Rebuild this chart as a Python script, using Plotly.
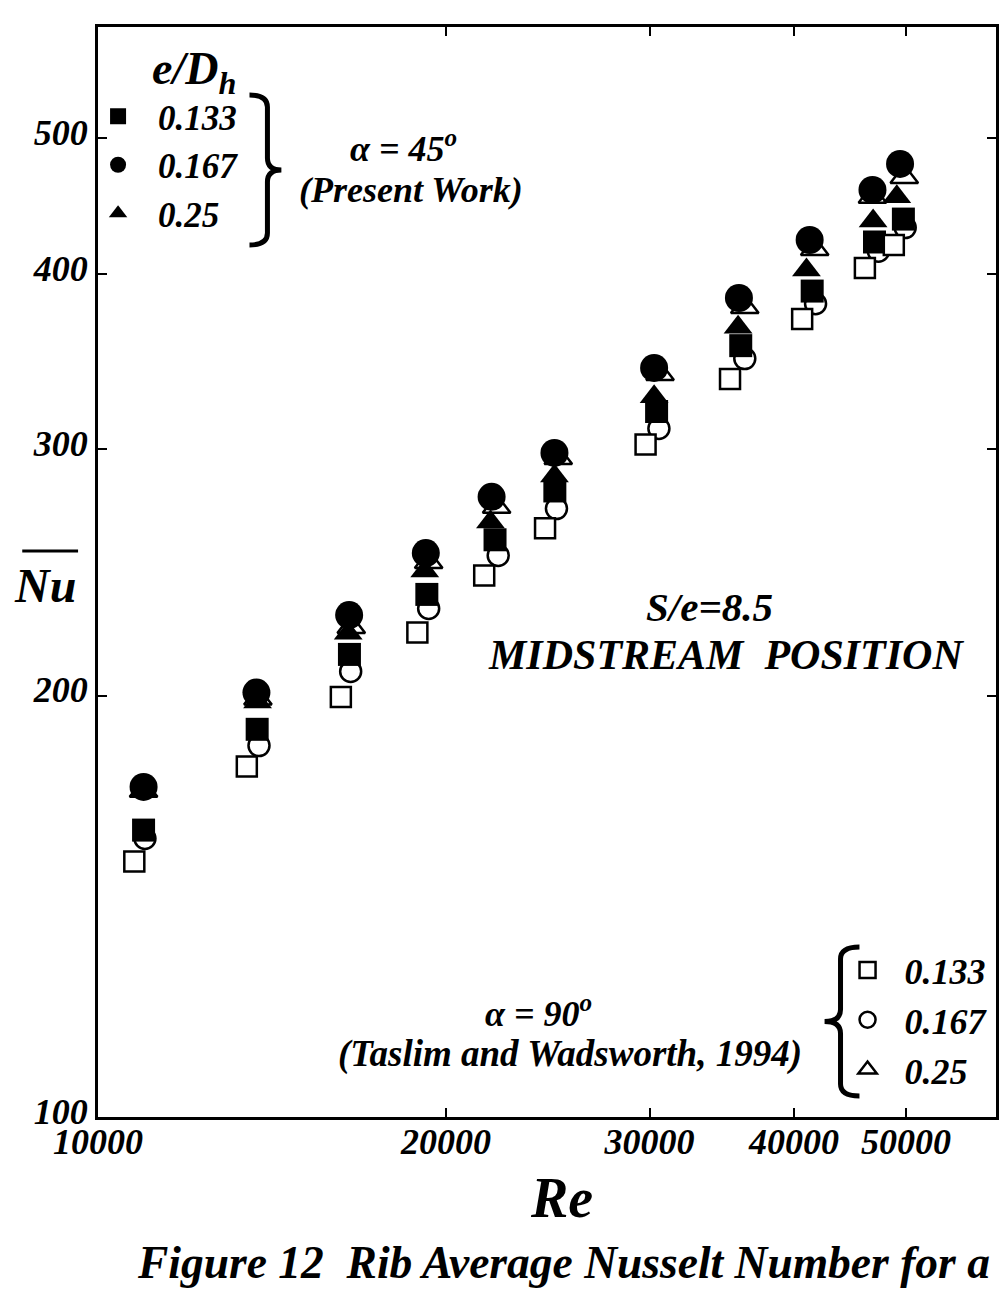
import plotly.graph_objects as go

# values (Re, Nu-bar), one pair of lists per series
# alpha = 45 deg, present work - filled symbols
re_45_133 = [10950, 13730, 16500, 19250, 22050, 24840, 30420, 35970, 41470, 46950, 49730]
nu_45_133 = [160.3, 189.2, 214.0, 236.2, 258.4, 280.0, 319.1, 355.6, 389.0, 421.7, 437.9]
re_45_167 = [10950, 13710, 16490, 19210, 21900, 24820, 30270, 35840, 41260, 46760, 49400]
nu_45_167 = [172.1, 201.0, 228.3, 252.8, 277.3, 298.1, 342.8, 384.6, 423.1, 459.4, 479.5]
re_45_250 = [10950, 13740, 16460, 19170, 21850, 24820, 30270, 35780, 41000, 46820, 49080]
nu_45_250 = [171.1, 197.9, 221.6, 245.5, 266.1, 287.0, 326.9, 366.6, 402.7, 436.5, 454.2]
# alpha = 90 deg, Taslim and Wadsworth (1994) - open symbols
re_90_133 = [10750, 13450, 16220, 18890, 21580, 24360, 29760, 35210, 40650, 46060, 48790]
nu_90_133 = [152.2, 178.0, 199.5, 221.9, 243.7, 263.3, 302.2, 336.6, 371.5, 404.1, 419.6]
re_90_167 = [10980, 13780, 16540, 19320, 22190, 24920, 30560, 36260, 41750, 47320, 49910]
nu_90_167 = [158.1, 184.2, 208.1, 230.8, 251.8, 272.0, 310.3, 348.1, 381.0, 415.3, 431.8]
re_90_250 = [10950, 13750, 16560, 19320, 22120, 25010, 30630, 36260, 41680, 46760, 49820]
nu_90_250 = [171.0, 199.0, 223.9, 249.1, 272.8, 295.6, 339.4, 378.9, 416.9, 454.2, 469.3]

re_ticks = [10000, 20000, 30000, 40000, 50000]
nu_ticks = [100, 200, 300, 400, 500]

W, H = 999, 1296
L, R, T, B = 98, 999, 27, 1117   # plot area in page pixels

def px(x):
    return (x - L) / (R - L)

def py(y):
    return (B - y) / (B - T)

SERIF = "Liberation Serif"

def bfont(size):
    return dict(family=SERIF, size=size, color="black", weight="bold", style="italic")

fig = go.Figure()

# drawing order matters: later traces sit on top
# (trace name, x, y, symbol, size, filled, legend, rank)
series = [
    ("0.25", re_90_250, nu_90_250, "triangle-up", 24, False, "legend2", 3),
    ("0.25", re_45_250, nu_45_250, "triangle-up", 25, True, "legend", 3),
    ("0.167", re_45_167, nu_45_167, "circle", 28, True, "legend", 2),
    ("0.167", re_90_167, nu_90_167, "circle", 21, False, "legend2", 2),
    ("0.133", re_45_133, nu_45_133, "square", 23, True, "legend", 1),
    ("0.133", re_90_133, nu_90_133, "square", 20, False, "legend2", 1),
]
for name, xs, ys, sym, size, filled, leg, rank in series:
    if filled:
        mk = dict(symbol=sym, size=size, color="black", line=dict(width=0))
    else:
        mk = dict(symbol=sym, size=size, color="white", line=dict(width=2.5, color="black"))
    fig.add_trace(go.Scatter(x=xs, y=ys, mode="markers", name=name, marker=mk,
                             legend=leg, legendrank=rank))

axis_common = dict(
    type="log", showgrid=False, zeroline=False, showline=True, linewidth=3,
    linecolor="black", mirror="ticks", ticks="inside", ticklen=9, tickwidth=2,
    tickcolor="black", tickfont=bfont(36),
)

def brace(x_end, x_mid, x_tip, y_top, y_bot, r=12):
    yc = (y_top + y_bot) / 2
    def p(x, y):
        return f"{px(x):.5f},{py(y):.5f}"
    return (f"M{p(x_end, y_top)} Q{p(x_mid, y_top)} {p(x_mid, y_top + r)} "
            f"L{p(x_mid, yc - r)} Q{p(x_mid, yc)} {p(x_tip, yc)} "
            f"Q{p(x_mid, yc)} {p(x_mid, yc + r)} L{p(x_mid, y_bot - r)} "
            f"Q{p(x_mid, y_bot)} {p(x_end, y_bot)}")

shapes = [
    dict(type="path", xref="paper", yref="paper", path=brace(250, 268, 282, 95, 245),
         line=dict(color="black", width=5)),
    dict(type="path", xref="paper", yref="paper", path=brace(862, 843, 827, 947, 1096),
         line=dict(color="black", width=5)),
    # bar over Nu
    dict(type="line", xref="paper", yref="paper", x0=px(22), x1=px(78), y0=py(551), y1=py(551),
         line=dict(color="black", width=3)),
]

def note(text, x, y, size, xanchor="center"):
    return dict(text=text, x=px(x), y=py(y), xref="paper", yref="paper", showarrow=False,
                xanchor=xanchor, yanchor="middle", font=bfont(size))

annotations = [
    note("e/D<sub>h</sub>", 150, 72, 46, "left"),
    note("α = 45<sup>o</sup>", 405, 146, 36),
    note("(Present Work)", 412, 190, 36),
    note("S/e=8.5", 712, 607, 41),
    note("MIDSTREAM\u00a0\u00a0POSITION", 728, 655, 42),
    note("α = 90<sup>o</sup>", 540, 1011, 36),
    note("(Taslim and Wadsworth, 1994)", 572, 1054, 37),
    note("Nu", 45, 585, 48),
    note("Re", 563, 1198, 56),
    note("Figure 12\u00a0\u00a0Rib Average Nusselt Number for a", 565, 1262, 45.5),
]

legend_common = dict(xanchor="left", yanchor="top", bgcolor="rgba(0,0,0,0)",
                     itemsizing="trace", tracegroupgap=0, traceorder="normal")

fig.update_layout(
    width=W, height=H,
    margin=dict(l=L, r=W - R, t=T, b=H - B, pad=0),
    paper_bgcolor="white", plot_bgcolor="white",
    xaxis=dict(axis_common, range=[4, 4 + (R - L) / 1160], ticklabelstandoff=-9,
               tickvals=re_ticks, ticktext=[str(v) for v in re_ticks]),
    yaxis=dict(axis_common, range=[2, 2 + (B - T) / 1400], ticklabelshift=-6,
               tickvals=nu_ticks, ticktext=[str(v) for v in nu_ticks]),
    legend=dict(legend_common, x=px(78), y=py(87), itemwidth=70, font=bfont(35)),
    legend2=dict(legend_common, x=px(833), y=py(940), itemwidth=64, font=bfont(36)),
    shapes=shapes,
    annotations=annotations,
    showlegend=True,
)

fig.write_html("out.html", config={"displayModeBar": False},
               post_script="document.body.style.margin='0';")
